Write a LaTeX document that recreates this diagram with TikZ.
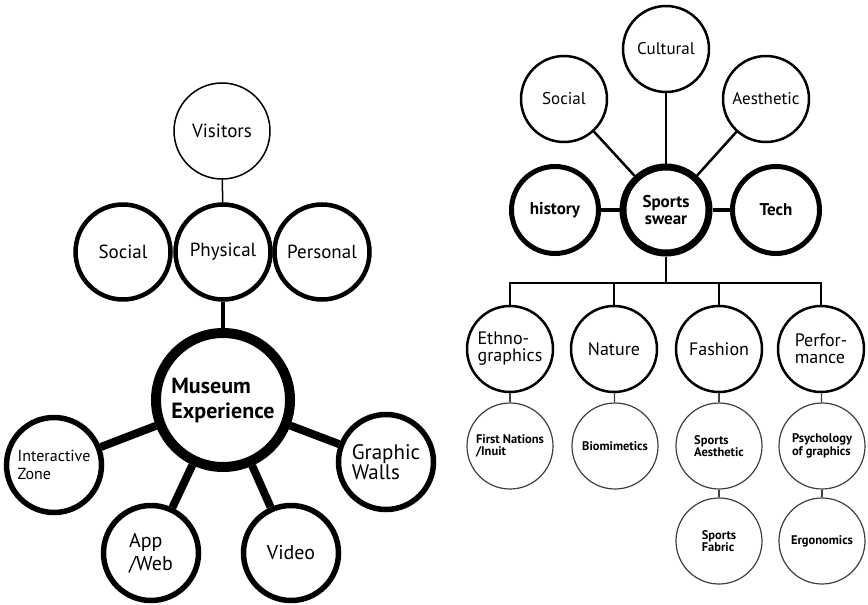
\documentclass[tikz,border=0pt]{standalone}
\usepackage{fontspec}
\setmainfont{PT Sans}
\begin{document}
\begin{tikzpicture}[x=1pt,y=-1pt,
  bub/.style={circle, draw=black, inner sep=0pt, align=left, text=black},
  lthin/.style={bub, line width=1.5pt, minimum size=96pt, font=\fontsize{19}{22}\selectfont},
  lmid/.style={bub, line width=4.5pt, minimum size=95pt, font=\fontsize{19}{22}\selectfont},
  lbig/.style={bub, line width=10pt, minimum size=134pt, font=\bfseries\fontsize{22}{25}\selectfont},
  lsat/.style={bub, line width=5.5pt, minimum size=95pt, font=\fontsize{20}{23}\selectfont},
  rtop/.style={bub, line width=2.5pt, minimum size=86pt, font=\fontsize{17}{19}\selectfont},
  rhub/.style={bub, line width=7pt, minimum size=86pt, font=\bfseries\fontsize{17}{17.5}\selectfont, align=center},
  rside/.style={bub, line width=5pt, minimum size=87pt, font=\bfseries\fontsize{17}{19}\selectfont},
  rmid/.style={bub, line width=2.5pt, minimum size=86pt, font=\fontsize{18}{17}\selectfont},
  rlow/.style={bub, line width=1.2pt, draw=black!75, minimum size=86pt, font=\bfseries\fontsize{12.5}{12.5}\selectfont},
  cthin/.style={line width=1.5pt},
  cmid/.style={line width=4pt},
  cthick/.style={line width=8pt},
  rline/.style={line width=2.5pt},
  rbold/.style={line width=4.5pt},
  rfine/.style={line width=1.2pt, draw=black!75}
]
\useasboundingbox (0,0) rectangle (868,605);
\fill[white] (0,0) rectangle (868,605);

% ---------- left diagram ----------
\node[lthin] (visitors) at (222,131) {Visitors};
\node[lmid] (lsocial) at (123,252) {Social};
\node[lmid] (physical) at (223,252) {Physical};
\node[lmid] (personal) at (322,252) {Personal};
\node[lbig] (museum) at (223,400) {Museum\\Experience};
\node[lsat, font=\fontsize{16}{18}\selectfont] (interactive) at (54,465) {Interactive\\Zone};
\node[lsat] (app) at (151,553) {App\\/Web};
\node[lsat] (video) at (291,553) {Video};
\node[lsat, font=\fontsize{21}{20}\selectfont] (graphic) at (386,462) {Graphic\\Walls};

\draw[cthin] (visitors) -- (physical);
\draw[cmid] (physical) -- (museum);
\draw[cthick] (museum) -- (interactive);
\draw[cthick] (museum) -- (app);
\draw[cthick] (museum) -- (video);
\draw[cthick] (museum) -- (graphic);

% ---------- right diagram ----------
\node[rtop] (cultural) at (666,49) {Cultural};
\node[rtop] (rsocial) at (564,99) {Social};
\node[rtop] (aesthetic) at (766,99) {Aesthetic};
\node[rhub] (sports) at (666,210) {Sports\\swear};
\node[rside] (history) at (555,210) {history};
\node[rside] (tech) at (776,210) {Tech};

\draw[rline] (rsocial) -- (sports);
\draw[rline] (cultural) -- (sports);
\draw[rline] (aesthetic) -- (sports);
\draw[rbold] (history) -- (sports);
\draw[rbold] (tech) -- (sports);

\node[rmid] (ethno) at (510,349) {Ethno-\\graphics};
\node[rmid] (nature) at (614,349) {Nature};
\node[rmid] (fashion) at (719,349) {Fashion};
\node[rmid] (perf) at (821,349) {Perfor-\\mance};

\coordinate (bar) at (666,283);
\draw[rline] (sports) -- (bar);
\draw[rline] (bar) -| (ethno);
\draw[rline] (bar) -| (nature);
\draw[rline] (bar) -| (fashion);
\draw[rline] (bar) -| (perf);

\node[rlow] (first) at (510,446) {First Nations\\/Inuit};
\node[rlow] (bio) at (615,446) {Biomimetics};
\node[rlow] (saest) at (719,446) {Sports\\Aesthetic};
\node[rlow] (psych) at (822,446) {Psychology\\of graphics};
\node[rlow] (fabric) at (719,541) {Sports\\Fabric};
\node[rlow] (ergo) at (822,541) {Ergonomics};

\draw[rfine] (ethno) -- (first);
\draw[rfine] (nature) -- (bio);
\draw[rfine] (fashion) -- (saest);
\draw[rfine] (perf) -- (psych);
\draw[rfine] (saest) -- (fabric);
\draw[rfine] (psych) -- (ergo);
\end{tikzpicture}
\end{document}
